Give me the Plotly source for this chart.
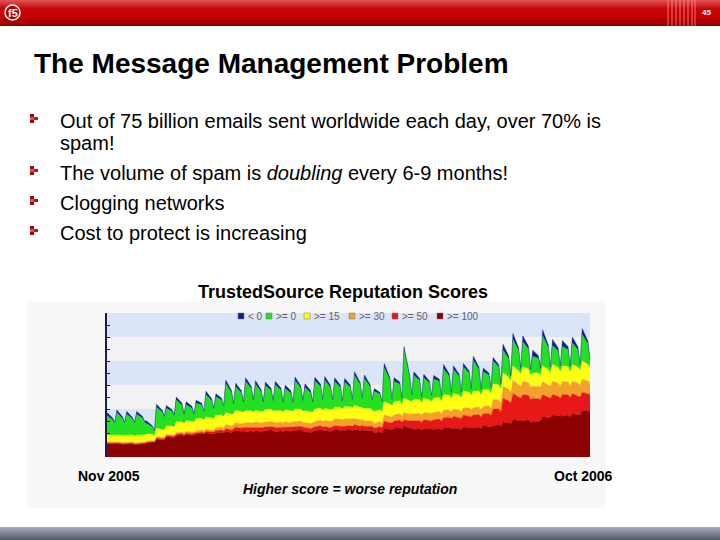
import plotly.graph_objects as go
import pandas as pd

W, H = 720, 540
PL, PR, PT, PB = 107, 590, 313, 457  # plot area in page pixels

def px(x):
    return (x - PL) / (PR - PL)

def py(y):
    return (PB - y) / (PB - PT)

# ------------- data: per week (peak, plateau, weekend dip), in band units -------------
series_names = [">= 100", ">= 50", ">= 30", ">= 15", ">= 0", "< 0"]
series_colors = ["#8b0000", "#e81818", "#f2a12a", "#ffff14", "#22e022", "#121e96"]

score_100 = [
    .55, .56, .55,  .56, .53, .54,  .53, .55, .52,  .52, .54, .55,  .58, .62, .60,
    .75, .72, .72,  .85, .80, .82,  .90, .92, .88,  .95, .90, .92,  .95, .98, .95,
    1.0, .96, .97,  1.0, 1.03, 1.0,  1.05, 1.02, 1.05,  1.10, 1.06, 1.08,  1.05, 1.08, 1.05,
    1.10, 1.05, 1.08,  1.10, 1.12, 1.10,  1.05, 1.08, 1.05,  1.10, 1.06, 1.10,  1.10, 1.12, 1.08,
    1.05, 1.02, 1.05,  1.10, 1.12, 1.10,  1.10, 1.06, 1.10,  1.15, 1.10, 1.12,  1.10, 1.14, 1.10,
    1.15, 1.10, 1.12,  1.10, 1.08, 1.10,  1.00, 1.05, 1.00,  1.20, 1.15, 1.15,  1.20, 1.22, 1.18,
    1.30, 1.20, 1.20,  1.15, 1.18, 1.12,  1.20, 1.16, 1.18,  1.15, 1.20, 1.12,  1.20, 1.24, 1.18,
    1.20, 1.18, 1.15,  1.25, 1.22, 1.20,  1.20, 1.25, 1.18,  1.30, 1.26, 1.25,  1.30, 1.35, 1.28,
    1.45, 1.42, 1.40,  1.55, 1.50, 1.50,  1.50, 1.55, 1.45,  1.45, 1.48, 1.50,  1.70, 1.62, 1.65,
    1.75, 1.72, 1.70,  1.70, 1.75, 1.68,  1.80, 1.76, 1.75,  1.95, 1.90, 1.90,
]
score_50 = [
    .03, .03, .03,  .03, .03, .03,  .03, .03, .03,  .03, .03, .03,  .03, .03, .03,
    .04, .04, .04,  .04, .05, .04,  .05, .05, .05,  .05, .06, .05,  .06, .06, .06,
    .07, .07, .07,  .10, .09, .09,  .13, .12, .12,  .15, .14, .15,  .18, .16, .17,
    .15, .17, .15,  .16, .15, .16,  .18, .16, .18,  .15, .17, .15,  .17, .16, .17,
    .18, .17, .18,  .16, .18, .16,  .17, .16, .17,  .15, .18, .15,  .18, .17, .18,
    .20, .18, .20,  .18, .20, .18,  .20, .22, .22,  .30, .28, .28,  .30, .32, .28,
    .25, .30, .30,  .35, .33, .33,  .35, .36, .33,  .40, .38, .38,  .45, .42, .42,
    .50, .46, .45,  .50, .50, .48,  .55, .52, .50,  .50, .55, .48,  .70, .65, .60,
    1.00, .92, .85,  1.10, 1.00, .95,  1.10, 1.02, .95,  1.00, .95, .90,  .90, .88, .80,
    .85, .82, .75,  .90, .85, .80,  .85, .80, .75,  .75, .72, .70,
]
score_30 = [
    .05, .05, .05,  .05, .05, .05,  .05, .05, .05,  .05, .05, .05,  .05, .05, .04,
    .06, .06, .06,  .06, .07, .06,  .07, .07, .07,  .07, .08, .07,  .08, .09, .08,
    .10, .10, .10,  .13, .13, .12,  .17, .16, .17,  .18, .19, .18,  .20, .19, .20,
    .22, .20, .22,  .20, .21, .20,  .20, .22, .20,  .22, .20, .22,  .20, .22, .20,
    .20, .21, .20,  .22, .24, .22,  .25, .27, .25,  .28, .30, .28,  .30, .28, .30,
    .25, .27, .25,  .22, .24, .22,  .20, .22, .20,  .25, .26, .25,  .25, .27, .25,
    .30, .28, .30,  .30, .31, .30,  .30, .30, .30,  .30, .32, .30,  .30, .31, .30,
    .30, .32, .30,  .30, .33, .30,  .30, .32, .30,  .30, .34, .30,  .40, .38, .38,
    .50, .48, .45,  .55, .52, .50,  .55, .53, .50,  .50, .52, .50,  .55, .53, .50,
    .55, .55, .50,  .55, .54, .50,  .50, .52, .50,  .55, .54, .50,
]
score_15 = [
    .29, .28, .27,  .29, .30, .27,  .30, .29, .28,  .31, .30, .29,  .30, .25, .20,
    .35, .33, .30,  .35, .36, .32,  .45, .42, .40,  .45, .44, .42,  .50, .48, .45,
    .50, .49, .45,  .52, .50, .48,  .50, .48, .45,  .52, .49, .45,  .50, .50, .44,
    .48, .47, .45,  .52, .50, .46,  .50, .48, .44,  .50, .49, .45,  .53, .50, .46,
    .50, .47, .45,  .52, .50, .46,  .50, .49, .45,  .50, .48, .44,  .52, .50, .46,
    .55, .52, .46,  .52, .50, .45,  .50, .48, .45,  .55, .52, .45,  .55, .53, .45,
    .60, .55, .50,  .60, .57, .50,  .60, .56, .50,  .60, .58, .50,  .65, .60, .55,
    .65, .62, .55,  .70, .65, .60,  .70, .66, .60,  .70, .65, .60,  .65, .62, .55,
    .55, .52, .45,  .60, .56, .50,  .60, .57, .50,  .55, .55, .50,  .65, .62, .55,
    .70, .65, .60,  .65, .63, .55,  .70, .66, .60,  .75, .70, .65,
]
score_0 = [
    .81, .62, .50,  .91, .68, .51,  .87, .66, .52,  .87, .70, .53,  .44, .30, .20,
    .87, .72, .53,  .73, .62, .46,  .90, .70, .35,  .66, .55, .29,  .65, .56, .32,
    .92, .72, .40,  .76, .62, .39,  1.20, .90, .39,  .97, .80, .38,  1.22, .92, .46,
    1.08, .82, .34,  .99, .80, .38,  1.07, .85, .36,  .88, .74, .32,  1.18, .88, .39,
    .97, .80, .36,  1.17, .90, .41,  1.18, .92, .37,  1.07, .84, .29,  1.02, .82, .31,
    1.25, .95, .37,  1.25, .90, .39,  .83, .65, .39,  1.42, 1.00, .22,  .85, .70, .24,
    2.00, 1.00, .25,  1.00, .80, .20,  .85, .70, .20,  .80, .68, .22,  1.07, .80, .20,
    1.00, .78, .20,  1.00, .80, .20,  1.27, .90, .20,  .75, .62, .20,  .95, .75, .20,
    .95, .75, .20,  1.10, .85, .20,  1.05, .82, .20,  .70, .60, .25,  1.25, .90, .20,
    .80, .68, .20,  .80, .70, .20,  .90, .72, .20,  1.10, .85, .25,
]
score_neg = [
    .12, .08, .05,  .12, .08, .05,  .12, .07, .05,  .12, .08, .05,  .10, .05, .03,
    .13, .08, .05,  .12, .07, .05,  .13, .08, .05,  .12, .08, .05,  .12, .07, .05,
    .15, .09, .05,  .13, .08, .05,  .15, .09, .06,  .15, .08, .06,  .15, .09, .06,
    .15, .09, .06,  .15, .08, .06,  .15, .09, .06,  .15, .09, .06,  .15, .08, .06,
    .15, .09, .06,  .15, .09, .06,  .15, .08, .06,  .15, .09, .06,  .15, .09, .06,
    .15, .08, .06,  .15, .09, .06,  .12, .07, .06,  .18, .09, .05,  .15, .08, .05,
    .15, .08, .05,  .15, .08, .05,  .15, .08, .05,  .15, .08, .05,  .18, .09, .05,
    .15, .08, .05,  .15, .08, .05,  .18, .09, .05,  .15, .08, .05,  .15, .08, .05,
    .25, .12, .05,  .25, .12, .05,  .25, .12, .05,  .25, .12, .05,  .25, .12, .05,
    .25, .12, .05,  .25, .12, .05,  .25, .12, .05,  .25, .12, .05,
]
series_values = [score_100, score_50, score_30, score_15, score_0, score_neg]

# sample times within each week: peak, plateau, weekend dip (hours after week start)
week_start = pd.Timestamp("2005-11-01")
sample_hours = [0, 96, 132]
dates = []
for k in range(len(score_100) // 3):
    for hrs in sample_hours:
        dates.append(week_start + pd.Timedelta(days=7 * k, hours=hrs))

bullets = [
    "Out of 75 billion emails sent worldwide each day, over 70% is",
    "spam!",
    "The volume of spam is <i>doubling</i> every 6-9 months!",
    "Clogging networks",
    "Cost to protect is increasing",
]
bullet_y = [121, 143, 173, 203, 233]
marker_y = [119, 171, 201, 231]

legend_labels = ["&lt; 0", "&gt;= 0", "&gt;= 15", "&gt;= 30", "&gt;= 50", "&gt;= 100"]

FONT = "Liberation Sans"

fig = go.Figure()
for name, vals, col in zip(series_names, series_values, series_colors):
    fig.add_trace(go.Scatter(x=dates, y=vals, name=name, stackgroup="s", mode="lines",
                             line=dict(width=0.4, color=col), fillcolor=col,
                             showlegend=False, hoverinfo="skip"))

shapes = []
annotations = []

def rect(x0, y0, x1, y1, color, layer="below", line=None):
    shapes.append(dict(type="rect", xref="paper", yref="paper", x0=px(x0), x1=px(x1),
                       y0=py(y1), y1=py(y0), fillcolor=color, line=line or dict(width=0), layer=layer))

def text(x, y, s, size, color="black", bold=False, xanchor="left", yanchor="middle", italic=False):
    if bold:
        s = "<b>" + s + "</b>"
    if italic:
        s = "<i>" + s + "</i>"
    annotations.append(dict(x=px(x), y=py(y), xref="paper", yref="paper", text=s, showarrow=False,
                            xanchor=xanchor, yanchor=yanchor,
                            font=dict(family=FONT, size=size, color=color)))

def lerp(c1, c2, t):
    return "rgb(%d,%d,%d)" % tuple(round(a + (b - a) * t) for a, b in zip(c1, c2))

# header bar gradient
for j in range(26):
    if j < 8:
        c = lerp((222, 80, 80), (200, 8, 8), j / 8)
    elif j < 18:
        c = lerp((200, 8, 8), (192, 0, 0), (j - 8) / 10)
    else:
        c = lerp((192, 0, 0), (135, 0, 0), (j - 18) / 8)
    rect(0, j, 720, j + 1, c)
for sx in [668, 672, 676, 680, 684, 688, 692, 695]:
    shapes.append(dict(type="line", xref="paper", yref="paper", x0=px(sx), x1=px(sx), y0=py(0), y1=py(26),
                       line=dict(color="rgba(255,150,150,0.75)", width=1), layer="below"))
shapes.append(dict(type="circle", xref="paper", yref="paper", x0=px(5), x1=px(20), y0=py(20), y1=py(5),
                   fillcolor="#b30000", line=dict(color="white", width=1.5), layer="below"))
text(12.5, 13, "f5", 11, "white", bold=True, xanchor="center")
text(713, 12, "45", 8, "white", bold=True, xanchor="right")

# bottom bar gradient
for j in range(13):
    rect(0, 527 + j, 720, 528 + j, lerp((165, 172, 182), (82, 92, 106), j / 12))

# chart image backdrop
rect(27, 301, 606, 508, "#f8f8f8")

# title
text(32, 63, "The Message Management Problem", 28, "black", bold=True)

# bullets
for s, y in zip(bullets, bullet_y):
    text(58, y, s, 20, "black")
for y in marker_y:
    rect(30, y - 5, 34, y - 2, "#9b0d0d")
    rect(30, y - 2, 34, y + 1, "#e05050")
    rect(34, y - 2, 38, y + 1, "#c41414")
    rect(30, y + 1, 34, y + 4, "#9b0d0d")

# chart texts
text(343, 292, "TrustedSource Reputation Scores", 18, "black", bold=True, xanchor="center")
text(109, 476, "Nov 2005", 14, "black", bold=True, xanchor="center")
text(583, 476, "Oct 2006", 14, "black", bold=True, xanchor="center")
text(350, 489, "Higher score = worse reputation", 14, "black", bold=True, italic=True, xanchor="center")

# background bands inside plot
for k in range(6):
    shapes.append(dict(type="rect", xref="x domain", yref="y", x0=0, x1=1, y0=k, y1=k + 1,
                       fillcolor="#dce4f8" if k % 2 == 1 else "#f2f2f2", line=dict(width=0), layer="below"))

# legend (drawn inside top of plot)
legend_colors = series_colors[::-1]
legend_x = [238, 266, 304, 349, 392, 437]
for lab, col, lx in zip(legend_labels, legend_colors, legend_x):
    rect(lx, 313, lx + 6, 319, col, layer="above", line=dict(width=0.5, color="#777"))
    text(lx + 8, 316, lab, 10, "#666")

fig.update_layout(
    width=W, height=H,
    margin=dict(l=PL, r=W - PR, t=PT, b=H - PB, pad=0),
    paper_bgcolor="white", plot_bgcolor="rgba(0,0,0,0)",
    showlegend=False,
    shapes=shapes, annotations=annotations,
    xaxis=dict(range=[dates[0], dates[-1]], showgrid=False, zeroline=False, showticklabels=False,
               showline=False, ticks=""),
    yaxis=dict(range=[0, 6], showgrid=False, zeroline=False, showticklabels=False, showline=True,
               linecolor="#1c1c50", linewidth=1.5, ticks="inside", ticklen=3, tickcolor="#1c1c50",
               dtick=0.5, tick0=0),
)

fig.write_html("out.html", config={"displayModeBar": False},
               post_script="document.body.style.margin='0';document.body.style.overflow='hidden';")
